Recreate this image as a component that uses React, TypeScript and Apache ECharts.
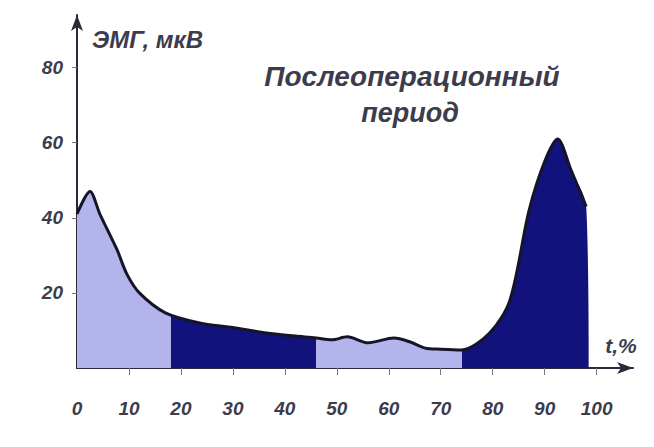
import React, { useEffect, useRef } from "react";
import * as echarts from "echarts";

const timePct = [0, 2.5, 4.4, 7.7, 9.6, 12, 17, 23.6, 30, 36.5, 42, 46, 49, 52, 56, 61, 64, 67, 70, 74, 79.4, 83.3, 87, 90, 92.5, 95, 98, 98.5];
const amplitude = [41, 47, 41, 31.5, 25, 20, 14.7, 12, 10.8, 9.3, 8.5, 8, 7.5, 8.3, 6.7, 8, 7, 5.3, 5, 4.8, 9.3, 18, 42, 55, 61, 53, 43, 0];
const xTickLabels = [0, 10, 20, 30, 40, 50, 60, 70, 80, 90, 100];
const yTickLabels = [20, 40, 60, 80];
const phaseBounds = [18, 46, 74];

const LIGHT = "#b4b4ec";
const DARK = "#12127c";
const INK = "#3c3c4c";

export default function App() {
  const ref = useRef<HTMLDivElement>(null);
  useEffect(() => {
    if (!ref.current) return;
    const chart = echarts.init(ref.current, null, { renderer: "svg" });
    const data = timePct.map((t, i) => [t, amplitude[i]]);
    const labelFont = {
      fontStyle: "italic" as const,
      fontWeight: "bold" as const,
      fontFamily: "Liberation Sans",
      color: INK,
    };
    chart.setOption({
      animation: false,
      backgroundColor: "#ffffff",
      grid: { left: 77, right: 21, top: 15, bottom: 79, outerBoundsMode: "none" },
      xAxis: {
        type: "value",
        min: 0,
        max: 107,
        axisLine: {
          show: true,
          symbol: ["none", "arrow"],
          symbolSize: [9, 16],
          lineStyle: { color: "#2a2a3a", width: 2 },
        },
        axisTick: {
          show: true,
          length: 7,
          lineStyle: { color: "#777" },
          customValues: xTickLabels.slice(1),
        },
        axisLabel: {
          ...labelFont,
          fontSize: 19,
          margin: 31,
          customValues: xTickLabels,
        },
        splitLine: { show: false },
      },
      yAxis: {
        type: "value",
        min: 0,
        max: 94,
        axisLine: {
          show: true,
          symbol: ["none", "arrow"],
          symbolSize: [9, 16],
          lineStyle: { color: "#2a2a3a", width: 2 },
        },
        axisTick: {
          show: true,
          length: 5,
          lineStyle: { color: "#777" },
          customValues: yTickLabels,
        },
        axisLabel: {
          ...labelFont,
          fontSize: 19,
          margin: 14,
          customValues: yTickLabels,
        },
        splitLine: { show: false },
      },
      visualMap: {
        show: false,
        type: "piecewise",
        seriesIndex: [0],
        dimension: 0,
        pieces: [
          { lt: phaseBounds[0], color: LIGHT },
          { gte: phaseBounds[0], lt: phaseBounds[1], color: DARK },
          { gte: phaseBounds[1], lt: phaseBounds[2], color: LIGHT },
          { gte: phaseBounds[2], color: DARK },
        ],
      },
      series: [
        {
          type: "line",
          data,
          smooth: 0.3,
          showSymbol: false,
          lineStyle: { width: 0 },
          areaStyle: { opacity: 1 },
          z: 2,
        },
        {
          type: "line",
          data: data.slice(0, data.length - 1),
          smooth: 0.3,
          showSymbol: false,
          color: "#15152a",
          itemStyle: { color: "#15152a" },
          lineStyle: { color: "#15152a", width: 3 },
          z: 5,
        },
      ],
      graphic: [
        {
          type: "text",
          left: 92,
          top: 27,
          style: { text: "ЭМГ, мкВ", ...labelFont, fill: INK, fontSize: 24 },
        },
        {
          type: "text",
          x: 412,
          y: 76,
          style: {
            text: "Послеоперационный",
            ...labelFont,
            fill: INK,
            fontSize: 28,
            align: "center",
            verticalAlign: "middle",
          },
        },
        {
          type: "text",
          x: 410,
          y: 113,
          style: {
            text: "период",
            ...labelFont,
            fill: INK,
            fontSize: 27,
            align: "center",
            verticalAlign: "middle",
          },
        },
        {
          type: "text",
          x: 621,
          y: 345,
          style: {
            text: "t,%",
            ...labelFont,
            fill: INK,
            fontSize: 21,
            align: "center",
            verticalAlign: "middle",
          },
        },
      ],
    });
    return () => chart.dispose();
  }, []);
  return (
    <div
      ref={ref}
      style={{ position: "fixed", left: 0, top: 0, width: 654, height: 447 }}
    />
  );
}
